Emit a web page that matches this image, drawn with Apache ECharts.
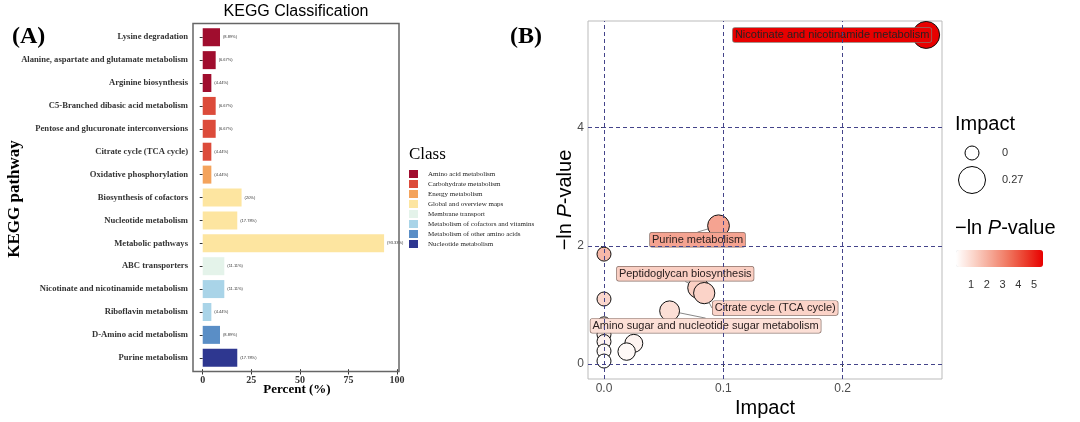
<!DOCTYPE html>
<html><head><meta charset="utf-8">
<script src="https://cdn.jsdelivr.net/npm/echarts@6/dist/echarts.min.js"></script>
<style>html,body{margin:0;padding:0;background:#fff}#c{width:1080px;height:422px}</style>
</head><body><div id="c"></div>
<script>
// ---------- Panel A data ----------
const pathways = [
  'Lysine degradation',
  'Alanine, aspartate and glutamate metabolism',
  'Arginine biosynthesis',
  'C5-Branched dibasic acid metabolism',
  'Pentose and glucuronate interconversions',
  'Citrate cycle (TCA cycle)',
  'Oxidative phosphorylation',
  'Biosynthesis of cofactors',
  'Nucleotide metabolism',
  'Metabolic pathways',
  'ABC transporters',
  'Nicotinate and nicotinamide metabolism',
  'Riboflavin metabolism',
  'D-Amino acid metabolism',
  'Purine metabolism'
];
const pathwayClass = [
  'Amino acid metabolism','Amino acid metabolism','Amino acid metabolism',
  'Carbohydrate metabolism','Carbohydrate metabolism','Carbohydrate metabolism',
  'Energy metabolism',
  'Global and overview maps','Global and overview maps','Global and overview maps',
  'Membrane transport',
  'Metabolism of cofactors and vitamins','Metabolism of cofactors and vitamins',
  'Metabolism of other amino acids',
  'Nucleotide metabolism'
];
const percents = [8.89, 6.67, 4.44, 6.67, 6.67, 4.44, 4.44, 20, 17.78, 93.33, 11.11, 11.11, 4.44, 8.89, 17.78];
const classNames = [
  'Amino acid metabolism','Carbohydrate metabolism','Energy metabolism','Global and overview maps',
  'Membrane transport','Metabolism of cofactors and vitamins','Metabolism of other amino acids','Nucleotide metabolism'
];
const percentTicks = [0, 25, 50, 75, 100];

// ---------- Panel B data ----------
const impactNames = [
  'Nicotinate and nicotinamide metabolism',
  'Purine metabolism',
  'Peptidoglycan biosynthesis',
  'Citrate cycle (TCA cycle)',
  'Amino sugar and nucleotide sugar metabolism',
  '', '', '', '', '', '', '', '', ''
];
const impact =  [0.27, 0.096, 0.079, 0.084, 0.055, 0, 0, 0, 0, 0, 0, 0, 0.025, 0.019];
const negLnP =  [5.57, 2.34, 1.29, 1.20, 0.90, 1.86, 1.10, 0.68, 0.50, 0.38, 0.22, 0.05, 0.35, 0.21];
const impactTicks = [0, 0.1, 0.2];
const pTicks = [0, 2, 4];
const colorTicks = [1, 2, 3, 4, 5];
const sizeLegendValues = [0, 0.27];

// ---------- styling ----------
const SERIF = 'Liberation Serif';
const SANS = 'Liberation Sans';
const classColors = ['#A00D2E','#DC4B3A','#F4A35C','#FDE5A0','#E4F3EA','#A9D4E8','#5A8EC6','#2E3790'];
const gradStops = ['#FFFFFF','#FBD5CA','#F5A795','#F0765F','#EB3D2C','#E80000'];
const labelOffsets = {
  'Nicotinate and nicotinamide metabolism': [-94, 0],
  'Purine metabolism': [-21, 14],
  'Peptidoglycan biosynthesis': [-13, -14],
  'Citrate cycle (TCA cycle)': [71, 15],
  'Amino sugar and nucleotide sugar metabolism': [36, 15]
};
function radius(v){ return 7 + 6.5 * Math.sqrt(v / 0.27); }
const pMin = Math.min(...negLnP), pMax = Math.max(...negLnP);
function hex2rgb(h){ return [1,3,5].map(i=>parseInt(h.substr(i,2),16)); }
function colorAt(v){
  let t = (v - pMin) / (pMax - pMin); t = Math.max(0, Math.min(1, t));
  const n = gradStops.length - 1, k = Math.min(n - 1, Math.floor(t * n)), f = t * n - k;
  const a = hex2rgb(gradStops[k]), b = hex2rgb(gradStops[k+1]);
  return 'rgb(' + a.map((x,i)=>Math.round(x + (b[i]-x)*f)).join(',') + ')';
}

// panel A box and inner (ggplot-like expanded) category area
const boxA = { x: 193, y: 23.5, w: 206, h: 348 };
const bandExpand = 0.1; // extra category units each side beyond ECharts' 0.5
const unitA = boxA.h / (pathways.length + 2 * bandExpand);
const padA = unitA * bandExpand;

// ---------- Build series ----------
const barSeries = classNames.map((cls, ci) => ({
  type: 'bar', name: cls, stack: 'total', xAxisIndex: 0, yAxisIndex: 0,
  barWidth: 18,
  itemStyle: { color: classColors[ci] },
  label: {
    show: true, position: 'right', distance: 3, fontSize: 4, color: '#333', fontFamily: SANS,
    formatter: p => '(' + (+p.value).toFixed(2).replace(/\.?0+$/, '') + '%)'
  },
  data: percents.map((v, i) => pathwayClass[i] === cls ? v : '-')
}));

const scatterData = impact.map((x, i) => {
  const item = { name: impactNames[i], value: [x, negLnP[i]] };
  if (impactNames[i]) {
    item.label = {
      show: true, formatter: '{b}', position: 'inside',
      fontFamily: SANS, fontSize: 11, color: '#2a2020',
      backgroundColor: colorAt(negLnP[i]), borderColor: '#8a7068', borderWidth: 0.7,
      borderRadius: 2, padding: [2, 2, 1, 2]
    };
  }
  return item;
});

const gridLineData = impactTicks.map(v => ({ xAxis: v })).concat(pTicks.map(v => ({ yAxis: v })));

const graphics = [
  { type: 'rect', shape: { x: boxA.x, y: boxA.y, width: boxA.w, height: boxA.h }, style: { fill: 'none', stroke: '#666', lineWidth: 1.5 }, z: 10 },
  { type: 'text', x: 12, y: 37, style: { text: '(A)', font: 'bold 24px ' + SERIF, fill: '#000', textVerticalAlign: 'middle' } },
  { type: 'text', x: 510, y: 37, style: { text: '(B)', font: 'bold 24px ' + SERIF, fill: '#000', textVerticalAlign: 'middle' } },
  { type: 'text', x: 296, y: 12, style: { text: 'KEGG Classification', font: '16px ' + SANS, fill: '#000', textAlign: 'center', textVerticalAlign: 'middle' } },
  { type: 'text', x: 15, y: 199, rotation: Math.PI / 2, style: { text: 'KEGG pathway', font: 'bold 17px ' + SERIF, fill: '#000', textAlign: 'center', textVerticalAlign: 'middle' } },
  { type: 'text', x: 297, y: 390, style: { text: 'Percent (%)', font: 'bold 13px ' + SERIF, fill: '#000', textAlign: 'center', textVerticalAlign: 'middle' } },
  { type: 'text', x: 409, y: 155, style: { text: 'Class', font: '17px ' + SERIF, fill: '#000', textVerticalAlign: 'middle' } },
  { type: 'text', x: 765, y: 408, style: { text: 'Impact', font: '20px ' + SANS, fill: '#000', textAlign: 'center', textVerticalAlign: 'middle' } },
  { type: 'text', x: 565, y: 200, rotation: Math.PI / 2, style: {
      text: '{n|−ln }{i|P}{n|-value}', textAlign: 'center', textVerticalAlign: 'middle',
      rich: { n: { fontSize: 20, fontFamily: SANS, fill: '#000' }, i: { fontSize: 20, fontFamily: SANS, fontStyle: 'italic', fill: '#000' } } } },
  { type: 'text', x: 955, y: 124, style: { text: 'Impact', font: '20px ' + SANS, fill: '#000', textVerticalAlign: 'middle' } },
  { type: 'text', x: 955, y: 228, style: {
      text: '{n|−ln }{i|P}{n|-value}', textVerticalAlign: 'middle',
      rich: { n: { fontSize: 20, fontFamily: SANS, fill: '#000' }, i: { fontSize: 20, fontFamily: SANS, fontStyle: 'italic', fill: '#000' } } } }
];
const sizeLegendY = [153, 180];
sizeLegendValues.forEach((v, i) => {
  graphics.push({ type: 'circle', shape: { cx: 972, cy: sizeLegendY[i], r: radius(v) }, style: { fill: '#fff', stroke: '#000', lineWidth: 1 } });
  graphics.push({ type: 'text', x: 1002, y: sizeLegendY[i], style: { text: String(v), font: '11px ' + SANS, fill: '#333', textVerticalAlign: 'middle' } });
});
const barX0 = 956, barLen = 87;
colorTicks.forEach(v => {
  graphics.push({ type: 'text', x: barX0 + (v - pMin) / (pMax - pMin) * barLen, y: 285,
    style: { text: String(v), font: '11px ' + SANS, fill: '#333', textAlign: 'center', textVerticalAlign: 'middle' } });
});

const option = {
  animation: false,
  backgroundColor: '#fff',
  graphic: graphics,
  grid: [
    { left: boxA.x, top: boxA.y + padA, width: boxA.w, height: boxA.h - 2 * padA, show: false },
    { left: 588, top: 21, width: 354, height: 358, show: true, borderColor: '#bbb', borderWidth: 1, backgroundColor: 'transparent' }
  ],
  xAxis: [
    { type: 'value', gridIndex: 0, min: -5, max: 101,
      axisLine: { show: false }, splitLine: { show: false },
      axisTick: { show: true, length: 3 + padA, lineStyle: { color: '#333' }, customValues: percentTicks },
      axisLabel: { customValues: percentTicks, fontFamily: SERIF, fontWeight: 'bold', fontSize: 10, color: '#333', margin: 4 + padA } },
    { type: 'value', gridIndex: 1, min: -0.0134, max: 0.2833,
      axisLine: { show: false }, splitLine: { show: false },
      axisTick: { show: true, length: 3, lineStyle: { color: '#333' }, customValues: impactTicks },
      axisLabel: { customValues: impactTicks, formatter: v => v.toFixed(1), fontFamily: SANS, fontSize: 12, color: '#4d4d4d', margin: 4 } }
  ],
  yAxis: [
    { type: 'category', gridIndex: 0, data: pathways, inverse: true,
      axisLine: { show: false }, splitLine: { show: false },
      axisTick: { show: true, length: 3, alignWithLabel: true, lineStyle: { color: '#333' } },
      axisLabel: { fontFamily: SERIF, fontWeight: 'bold', fontSize: 8.6, color: '#333', margin: 5, interval: 0 } },
    { type: 'value', gridIndex: 1, min: -0.254, max: 5.806,
      axisLine: { show: false }, splitLine: { show: false },
      axisTick: { show: true, length: 3, lineStyle: { color: '#333' }, customValues: pTicks },
      axisLabel: { customValues: pTicks, fontFamily: SANS, fontSize: 12, color: '#4d4d4d', margin: 4 } }
  ],
  legend: {
    data: classNames, orient: 'vertical', left: 409, top: 170, icon: 'rect',
    itemWidth: 9, itemHeight: 8, itemGap: 2, padding: 0, selectedMode: false,
    textStyle: { fontFamily: SERIF, fontSize: 7, color: '#222', padding: [0, 0, 0, 5] }
  },
  visualMap: {
    type: 'continuous', seriesIndex: classNames.length + 1, dimension: 1,
    min: pMin, max: pMax, inRange: { color: gradStops },
    orient: 'horizontal', left: barX0, top: 250, itemWidth: 17, itemHeight: barLen,
    calculable: false, hoverLink: false, padding: 0, text: null, showLabel: false
  },
  series: barSeries.concat([
    { type: 'line', xAxisIndex: 1, yAxisIndex: 1, data: [], z: 1, silent: true,
      markLine: { silent: true, symbol: 'none', label: { show: false }, animation: false,
        lineStyle: { color: '#44448a', width: 1, type: [4, 3] }, data: gridLineData } },
    { type: 'scatter', xAxisIndex: 1, yAxisIndex: 1, z: 3,
      data: scatterData,
      symbolSize: v => 2 * radius(v[0]),
      itemStyle: { borderColor: '#111', borderWidth: 1, opacity: 1 },
      labelLine: { show: true, lineStyle: { color: '#555', width: 0.7 } },
      labelLayout: p => {
        const o = labelOffsets[impactNames[p.dataIndex]];
        return o ? { dx: o[0], dy: o[1] } : {};
      }
    }
  ])
};
const chart = echarts.init(document.getElementById('c'), null, { renderer: 'canvas' });
chart.setOption(option);
</script></body></html>
